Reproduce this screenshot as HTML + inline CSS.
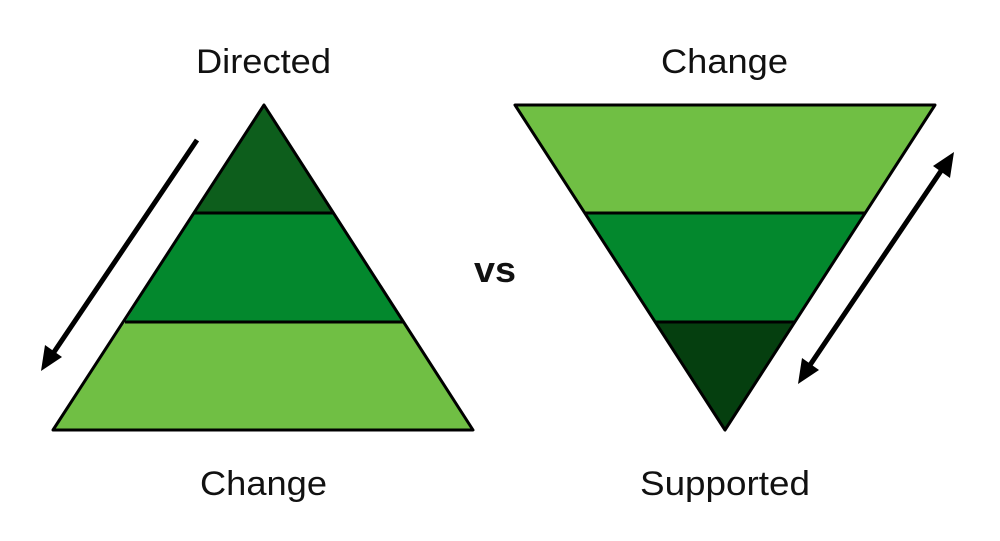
<!DOCTYPE html>
<html><head><style>
html,body{margin:0;padding:0;background:#fff;}
svg{display:block;}
text{font-family:"Liberation Sans",sans-serif;fill:#111;}
</style></head><body>
<svg width="1000" height="541" viewBox="0 0 1000 541" xmlns="http://www.w3.org/2000/svg">
<polygon points="264,105 334,213 194,213" fill="#0d5e1c"/>
<polygon points="194,213 334,213 403,322 125,322" fill="#03882d"/>
<polygon points="125,322 403,322 473,430 53,430" fill="#70bf44"/>
<polygon points="264,105 473,430 53,430" fill="none" stroke="#000" stroke-width="3" stroke-linejoin="round"/>
<line x1="194" y1="213" x2="334" y2="213" stroke="#000" stroke-width="3"/>
<line x1="125" y1="322" x2="403" y2="322" stroke="#000" stroke-width="3"/>
<polygon points="515,105 935,105 865,213 585,213" fill="#70bf44"/>
<polygon points="585,213 865,213 795,322 655,322" fill="#03882d"/>
<polygon points="655,322 795,322 725,430" fill="#053f0f"/>
<polygon points="515,105 935,105 725,430" fill="none" stroke="#000" stroke-width="3" stroke-linejoin="round"/>
<line x1="585" y1="213" x2="865" y2="213" stroke="#000" stroke-width="3"/>
<line x1="655" y1="322" x2="795" y2="322" stroke="#000" stroke-width="3"/>
<line x1="197" y1="140" x2="50" y2="358" stroke="#000" stroke-width="5"/>
<polygon points="41,371 45,345 62,357" fill="#000"/>
<line x1="945" y1="165" x2="806" y2="371" stroke="#000" stroke-width="5"/>
<polygon points="954,152 950,178 933,166" fill="#000"/>
<polygon points="798,384 802,358 819,370" fill="#000"/>
<text x="196" y="73" font-size="34" textLength="135" lengthAdjust="spacingAndGlyphs">Directed</text>
<text x="661" y="73" font-size="34" textLength="127" lengthAdjust="spacingAndGlyphs">Change</text>
<text x="200" y="495" font-size="34" textLength="127" lengthAdjust="spacingAndGlyphs">Change</text>
<text x="640" y="495" font-size="34" textLength="170" lengthAdjust="spacingAndGlyphs">Supported</text>
<text x="474" y="282" font-size="36" font-weight="bold" textLength="42" lengthAdjust="spacingAndGlyphs">vs</text>
</svg>
</body></html>
